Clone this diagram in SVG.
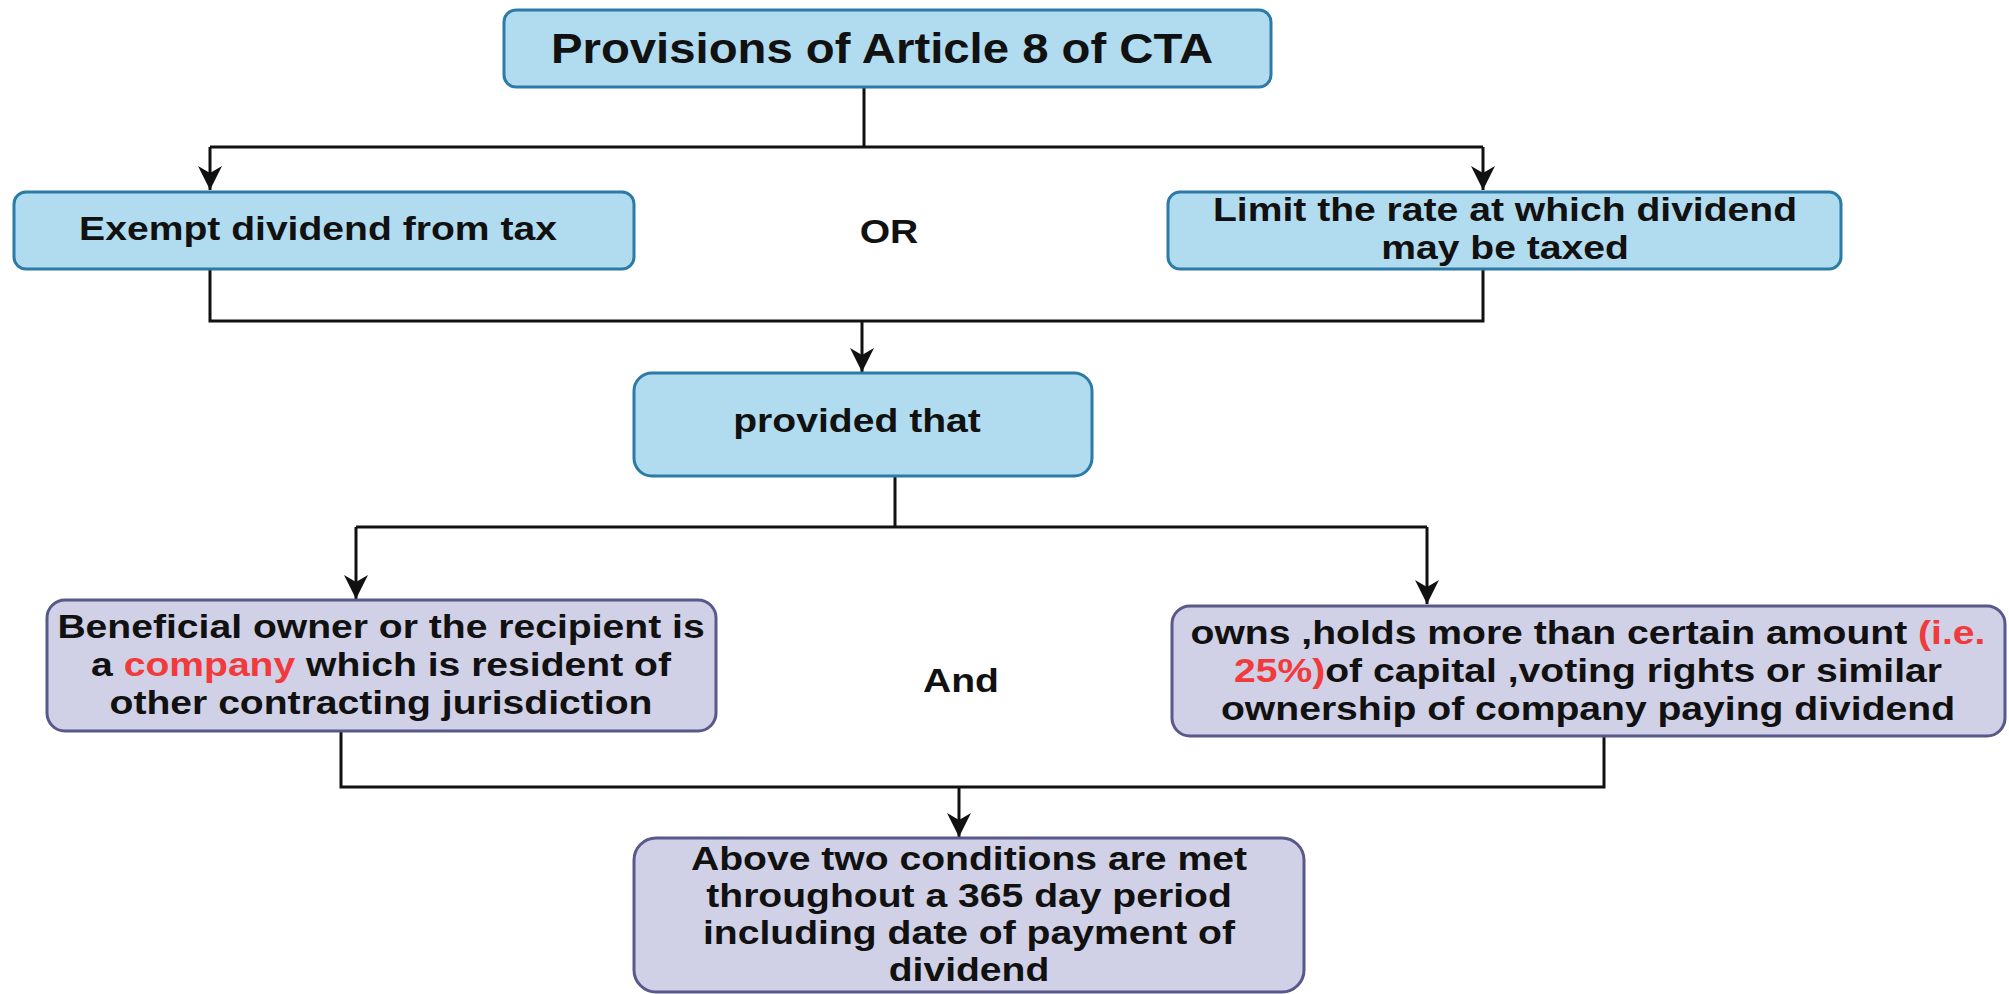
<svg xmlns="http://www.w3.org/2000/svg" width="2009" height="994" viewBox="0 0 2009 994">
<style>
.blue{fill:#b1dcef;stroke:#2c7aa6;stroke-width:3}
.lav{fill:#d0d0e6;stroke:#58588a;stroke-width:3}
.t{font-family:"Liberation Sans",Arial,sans-serif;font-weight:bold;fill:#111;text-anchor:middle}
.f{font-size:34px}
.red{fill:#f03a3c}
.c{fill:none;stroke:#111;stroke-width:3}
</style>
<defs>
<marker id="arr" viewBox="0 0 24 24" refX="24" refY="12" markerWidth="24" markerHeight="26" markerUnits="userSpaceOnUse" orient="auto">
<path d="M0,0 L24,12 L0,24 L7,12 Z" fill="#111"/>
</marker>
</defs>
<rect width="2009" height="994" fill="#fff"/>
<g id="connectors">
<path class="c" d="M864,87 V147 M210,147 H1483"/>
<path class="c" d="M210,147 V190" marker-end="url(#arr)"/>
<path class="c" d="M1483,147 V190" marker-end="url(#arr)"/>
<path class="c" d="M210,269 V321 H1483 V269"/>
<path class="c" d="M862,321 V372" marker-end="url(#arr)"/>
<path class="c" d="M895,476 V527 M356,527 H1427"/>
<path class="c" d="M356,527 V599" marker-end="url(#arr)"/>
<path class="c" d="M1427,527 V604" marker-end="url(#arr)"/>
<path class="c" d="M341,731 V787 H1604 V736"/>
<path class="c" d="M959,787 V837" marker-end="url(#arr)"/>
</g>
<g id="title">
<rect class="blue" x="504" y="10" width="767" height="77" rx="12"/>
<g transform="translate(882,0) scale(1.1,1)"><text class="t" x="0" y="63" font-size="43">Provisions of Article 8 of CTA</text></g>
</g>
<g id="exempt">
<rect class="blue" x="14" y="192" width="620" height="77" rx="12"/>
<g transform="translate(318,0) scale(1.15,1)"><text class="t f" x="0" y="240">Exempt dividend from tax</text></g>
</g>
<g id="or">
<g transform="translate(889,0) scale(1.15,1)"><text class="t f" x="0" y="243">OR</text></g>
</g>
<g id="limit">
<rect class="blue" x="1168" y="192" width="673" height="77" rx="12"/>
<g transform="translate(1505,0) scale(1.15,1)">
<text class="t f" x="0" y="221">Limit the rate at which dividend</text>
<text class="t f" x="0" y="259">may be taxed</text>
</g>
</g>
<g id="provided">
<rect class="blue" x="634" y="373" width="458" height="103" rx="18"/>
<g transform="translate(857,0) scale(1.15,1)"><text class="t f" x="0" y="432">provided that</text></g>
</g>
<g id="beneficial">
<rect class="lav" x="47" y="600" width="669" height="131" rx="18"/>
<g transform="translate(381,0) scale(1.15,1)">
<text class="t f" x="0" y="638">Beneficial owner or the recipient is</text>
<text class="t f" x="0" y="676">a <tspan class="red">company</tspan> which is resident of</text>
<text class="t f" x="0" y="714">other contracting jurisdiction</text>
</g>
</g>
<g id="and">
<g transform="translate(961,0) scale(1.15,1)"><text class="t f" x="0" y="692">And</text></g>
</g>
<g id="owns">
<rect class="lav" x="1172" y="606" width="833" height="130" rx="18"/>
<g transform="translate(1588,0) scale(1.15,1)">
<text class="t f" x="0" y="644">owns ,holds more than certain amount <tspan class="red">(i.e.</tspan></text>
<text class="t f" x="0" y="682"><tspan class="red">25%)</tspan>of capital ,voting rights or similar</text>
<text class="t f" x="0" y="720">ownership of company paying dividend</text>
</g>
</g>
<g id="above">
<rect class="lav" x="634" y="838" width="670" height="154" rx="22"/>
<g transform="translate(969,0) scale(1.15,1)">
<text class="t f" x="0" y="870">Above two conditions are met</text>
<text class="t f" x="0" y="907">throughout a 365 day period</text>
<text class="t f" x="0" y="944">including date of payment of</text>
<text class="t f" x="0" y="981">dividend</text>
</g>
</g>
</svg>
